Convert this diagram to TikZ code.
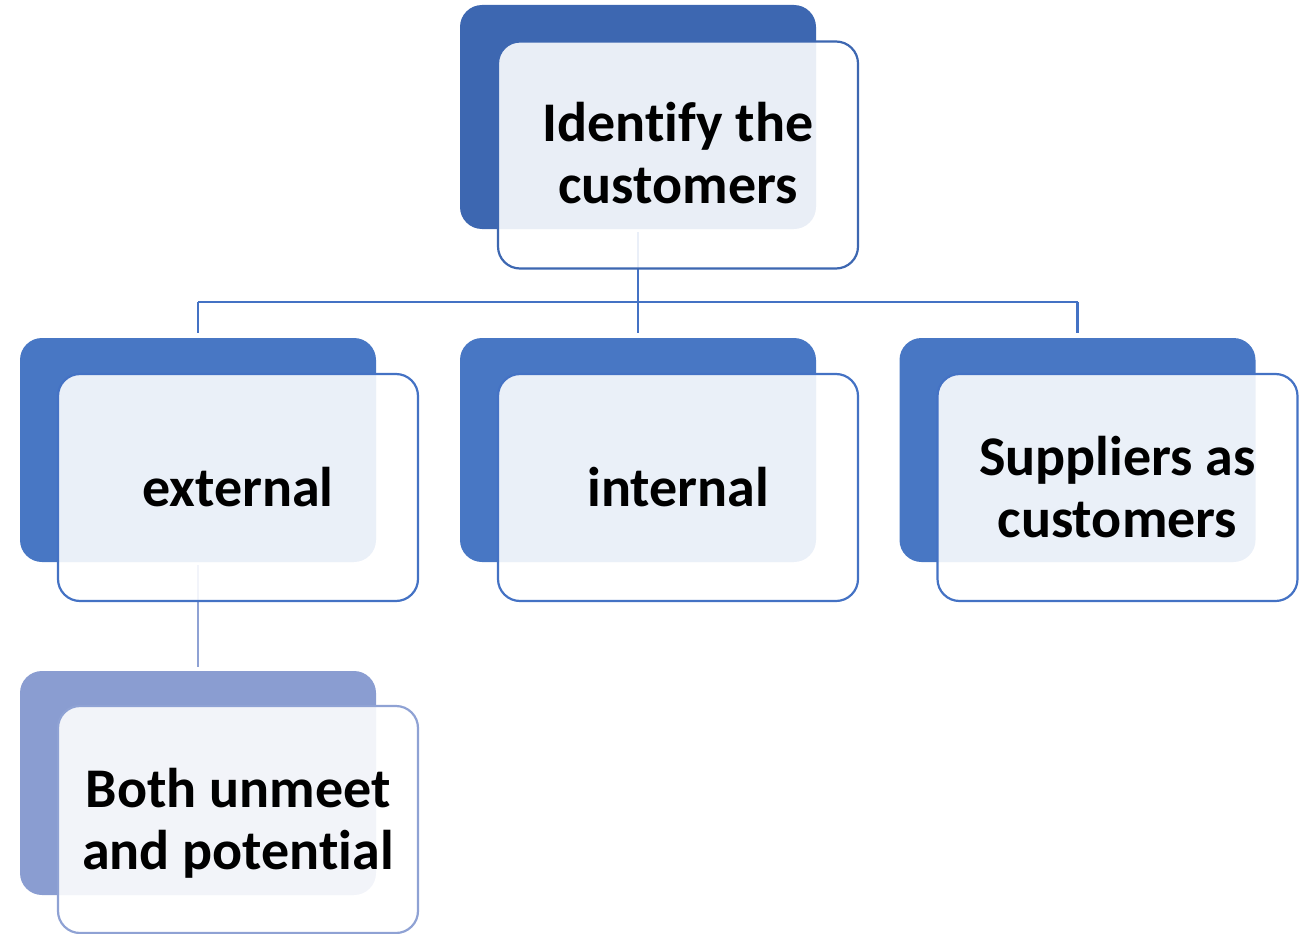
\documentclass[tikz,border=0pt]{standalone}
\usepackage{fontspec}
\setmainfont{Carlito}[Ligatures=CommonOff]
\definecolor{topblue}{HTML}{3D67B1}
\definecolor{midblue}{HTML}{4877C4}
\definecolor{midline}{HTML}{4472C4}
\definecolor{lowblue}{HTML}{8A9DD1}
\definecolor{lowline}{HTML}{8FA2D4}
\begin{document}
\begin{tikzpicture}[x=1pt,y=-1pt,
  backbox/.style={rounded corners=22pt, minimum width=356pt, minimum height=224pt,
    inner sep=0pt, fill=#1},
  frontbox/.style={rounded corners=22pt, minimum width=360pt, minimum height=227pt,
    inner sep=0pt, draw=#1, line width=2.2pt, fill=white, fill opacity=0.89},
  cardtext/.style={inner sep=0pt, align=center,
    font=\fontsize{56}{62}\selectfont\bfseries},
  link/.style={draw=#1, line width=2.4pt}
]
\useasboundingbox (0,0) rectangle (1304,934);

% solid back plates
\node[backbox=topblue] (topback) at (638,117) {};
\node[backbox=midblue] (extback) at (198,450) {};
\node[backbox=midblue] (intback) at (638,450) {};
\node[backbox=midblue] (supback) at (1077.5,450) {};
\node[backbox=lowblue] (bothback) at (198,783) {};

% tree connectors (behind the translucent front cards)
\coordinate (bus) at (637,302);
\draw[link=midline, shorten <=3pt, shorten >=5pt] (topback.south) -- (intback.north);
\draw[link=midline] (extback.north |- bus) -- (supback.north |- bus);
\draw[link=midline, shorten >=5pt] (extback.north |- bus) -- (extback.north);
\draw[link=midline, shorten >=5pt] (supback.north |- bus) -- (supback.north);
\draw[link=lowline, shorten <=3pt, shorten >=4pt] (extback.south) -- (bothback.north);

% translucent front cards
\node[frontbox=topblue] (top) at (678,155) {};
\node[frontbox=midline] (ext) at (238,487.5) {};
\node[frontbox=midline] (int) at (678,487.5) {};
\node[frontbox=midline] (sup) at (1117.5,487.5) {};
\node[frontbox=lowline] (both) at (238,819.5) {};

% card labels
\node[cardtext] (toplbl) at ([yshift=2pt]top.center) {Identify the\\customers};
\node[cardtext] (extlbl) at (ext.center) {external};
\node[cardtext] (intlbl) at (int.center) {internal};
\node[cardtext] (suplbl) at (sup.center) {Suppliers as\\customers};
\node[cardtext] (bothlbl) at ([yshift=-4pt]both.center) {Both unmeet\\and potential};
\end{tikzpicture}
\end{document}
